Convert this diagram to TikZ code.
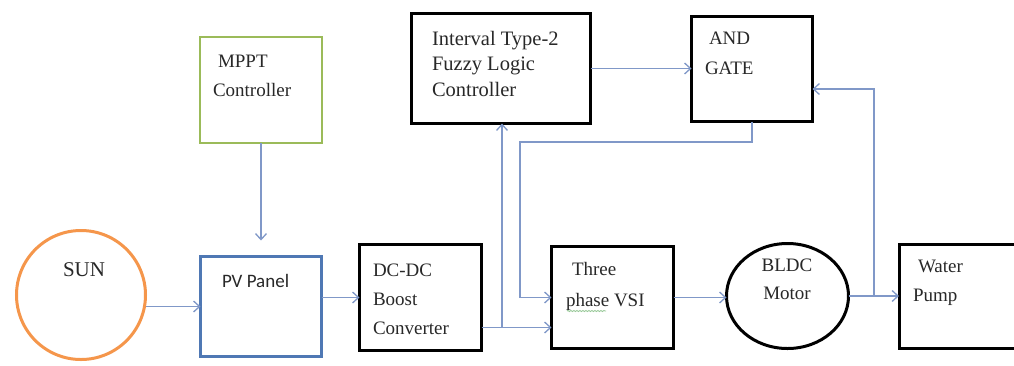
\documentclass[tikz,border=0pt]{standalone}
\usepackage{fontspec}
\setmainfont{Liberation Serif}
\newfontfamily\pvfont{Carlito}
\usetikzlibrary{arrows.meta,decorations.pathmorphing,shapes.geometric}
\definecolor{arrblue}{RGB}{128,152,200}
\definecolor{mpptgreen}{RGB}{155,187,89}
\definecolor{pvblue}{RGB}{79,120,180}
\definecolor{sunorange}{RGB}{245,150,75}
\definecolor{txtgray}{RGB}{40,40,40}
\definecolor{spellgreen}{RGB}{150,200,150}
\begin{document}
\begin{tikzpicture}[x=1pt,y=-1pt,
  blk/.style={draw=black,line width=3pt,rectangle,inner sep=0pt,outer sep=0pt},
  arr/.style={draw=arrblue,line width=1.5pt,-{Straight Barb[length=6pt,width=11pt,line width=1.3pt]}},
  ln/.style={draw=arrblue,line width=1.5pt},
  txt/.style={anchor=north west,inner sep=0pt,outer sep=0pt,align=left,text=txtgray,font=\fontsize{19}{29}\selectfont}
]
\useasboundingbox (0,0) rectangle (1014,365);
\clip (0,0) rectangle (1014,365);
\fill[white] (0,0) rectangle (1014,365);

% blocks
\node[circle,draw=sunorange,line width=3pt,minimum size=129pt,inner sep=0pt,outer sep=0pt] (sun) at (81,295) {};
\node[blk,draw=mpptgreen,line width=2.5pt,minimum width=122pt,minimum height=106pt] (mppt) at (261,90) {};
\node[blk,draw=pvblue,minimum width=121pt,minimum height=100pt] (pv) at (261,306.5) {};
\node[blk,minimum width=122pt,minimum height=106pt] (dcdc) at (420.5,297.5) {};
\node[blk,minimum width=179pt,minimum height=110pt] (itfl) at (501,68.5) {};
\node[blk,minimum width=122pt,minimum height=102pt] (vsi) at (612.5,297.5) {};
\node[blk,minimum width=121pt,minimum height=105pt] (andg) at (752,69) {};
\node[ellipse,draw=black,line width=3pt,minimum width=122pt,minimum height=105pt,inner sep=0pt,outer sep=0pt] (bldc) at (787.5,296) {};
\node[blk,minimum width=131pt,minimum height=104pt] (pump) at (964.5,296.5) {};

% texts
\node[txt,font=\fontsize{21}{25}\selectfont] (tsun) at (63,263) {SUN};
\node[txt] (tmppt) at (213,55) {\hspace{5pt}MPPT\\Controller};
\node[txt,font=\pvfont\fontsize{19}{25}\selectfont] (tpv) at (222,274) {PV Panel};
\node[txt] (tdc) at (373,264) {DC-DC\\Boost\\Converter};
\node[txt,font=\fontsize{20.5}{25.5}\selectfont] (titfl) at (432,31) {Interval Type-2\\Fuzzy Logic\\Controller};
\node[txt,font=\fontsize{19}{31}\selectfont] (tvsi) at (566,262) {\hspace{6pt}Three\\phase VSI};
\node[txt,font=\fontsize{19}{30}\selectfont] (tand) at (705,32) {\hspace{4pt}AND\\GATE};
\node[txt,anchor=north,align=center,font=\fontsize{19}{28}\selectfont] (tbldc) at (787,259) {BLDC\\Motor};
\node[txt] (tpump) at (913,260) {\hspace{5pt}Water\\Pump};
\draw[spellgreen,line width=0.8pt,decorate,decoration={snake,amplitude=0.6pt,segment length=3pt}] (567,311) -- (606,311);

% junction coordinates
\coordinate (j1) at (502,327.5);
\coordinate (c2) at (520,142);
\coordinate (j2) at (874,296);
\coordinate (c3) at (874,89);

% connectors
\draw[arr] (mppt.south) -- (pv.north) [shorten >=16pt];
\draw[arr] (sun.east |- pv.west) -- (pv.west);
\draw[arr] (pv.east |- dcdc.west) -- (dcdc.west);
\draw[ln] (dcdc.east |- j1) -- (j1);
\draw[arr] (j1) -- (vsi.west |- j1);
\draw[arr] (j1) -- (j1 |- itfl.south);
\draw[arr] (andg.south) |- (c2) |- (vsi.west);
\draw[arr] (itfl.east) -- (itfl.east -| andg.west);
\draw[arr] (vsi.east) -- (vsi.east -| bldc.west);
\draw[ln] (bldc.east) -- (j2);
\draw[arr] (j2) -- (pump.west |- j2);
\draw[arr] (j2) -- (c3) -- (c3 -| andg.east);
\end{tikzpicture}
\end{document}
